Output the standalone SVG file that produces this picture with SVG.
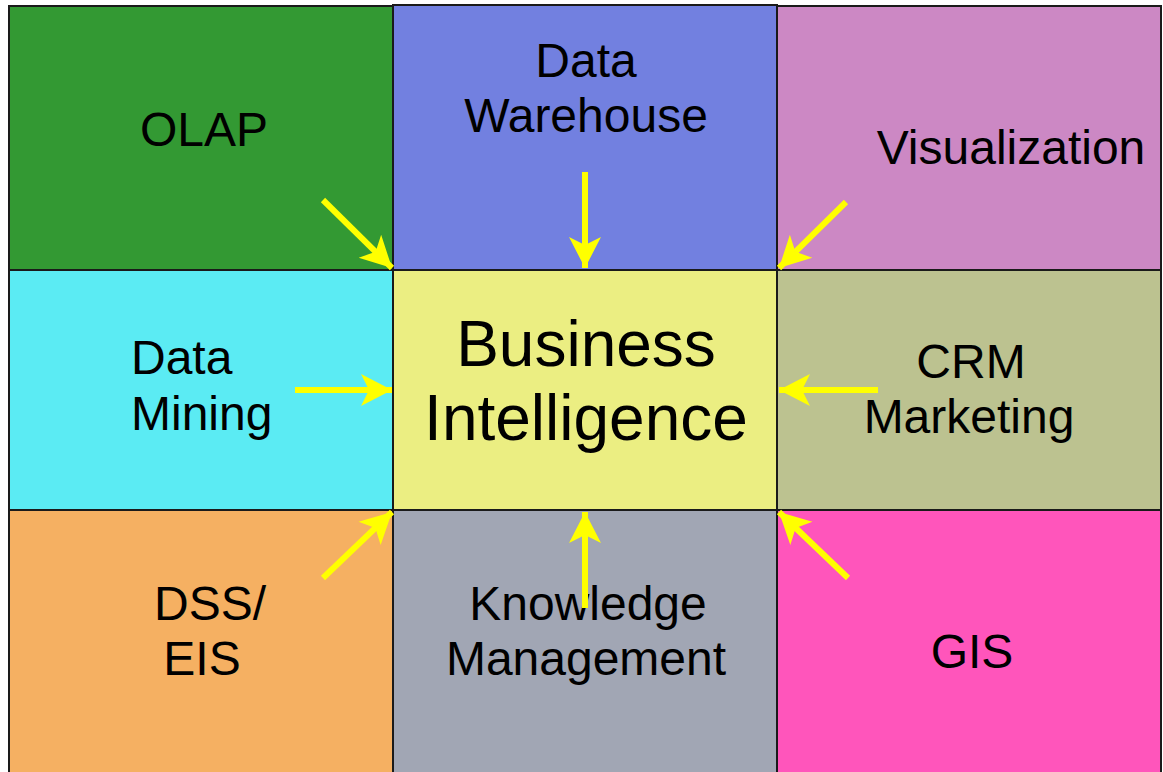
<svg xmlns="http://www.w3.org/2000/svg" width="1163" height="772" viewBox="0 0 1163 772">
<defs>
<style>
.cell{stroke:#1a1a1a;stroke-width:2}
.t{font-family:"Liberation Sans",Arial,sans-serif;font-size:48px;fill:#000;text-anchor:middle}
.l{text-anchor:start}
.big{font-size:64px}
.arr{stroke:#ffff00;stroke-width:6;fill:none;marker-end:url(#ah)}
</style>
<marker id="ah" markerUnits="userSpaceOnUse" markerWidth="40" markerHeight="40" viewBox="0 -20 40 40" refX="31" refY="0" orient="auto">
<path d="M0,-16 L31,0 L0,16 L8,0 Z" fill="#ffff00"/>
</marker>
</defs>
<rect width="1163" height="772" fill="#ffffff"/>
<g id="olap"><rect class="cell" x="9" y="6" width="384" height="264" fill="#339933"/><text class="t" x="204" y="146">OLAP</text></g>
<g id="data-warehouse"><rect class="cell" x="393" y="5" width="384" height="265" fill="#7280e0"/><text class="t" x="586" y="77">Data</text><text class="t" x="586" y="132">Warehouse</text></g>
<g id="visualization"><rect class="cell" x="777" y="6" width="384" height="264" fill="#cc88c4"/><text class="t" x="1011" y="164">Visualization</text></g>
<g id="data-mining"><rect class="cell" x="9" y="270" width="384" height="240" fill="#5bebf3"/><text class="t l" x="131" y="374">Data</text><text class="t l" x="131" y="430">Mining</text></g>
<g id="business-intelligence"><rect class="cell" x="393" y="270" width="384" height="240" fill="#ebee82"/><text class="t big" x="586" y="366">Business</text><text class="t big" x="586" y="440">Intelligence</text></g>
<g id="crm-marketing"><rect class="cell" x="777" y="270" width="384" height="240" fill="#bcc290"/><text class="t" x="971" y="378">CRM</text><text class="t" x="969" y="433">Marketing</text></g>
<g id="dss-eis"><rect class="cell" x="9" y="510" width="384" height="270" fill="#f5b062"/><text class="t" x="210" y="620">DSS/</text><text class="t" x="202" y="675">EIS</text></g>
<g id="knowledge-management"><rect class="cell" x="393" y="510" width="384" height="270" fill="#a1a6b4"/><text class="t" x="588" y="620">Knowledge</text><text class="t" x="586" y="675">Management</text></g>
<g id="gis"><rect class="cell" x="777" y="510" width="384" height="270" fill="#ff55bb"/><text class="t" x="972" y="668">GIS</text></g>
<g id="connectors">
<line class="arr" x1="323" y1="200" x2="392" y2="268"/>
<line class="arr" x1="585" y1="172" x2="585" y2="268"/>
<line class="arr" x1="846" y1="202" x2="779" y2="268"/>
<line class="arr" x1="295" y1="390" x2="392" y2="390"/>
<line class="arr" x1="878" y1="390" x2="779" y2="390"/>
<line class="arr" x1="323" y1="578" x2="392" y2="512"/>
<line class="arr" x1="585" y1="608" x2="585" y2="512"/>
<line class="arr" x1="848" y1="578" x2="779" y2="512"/>
</g>
</svg>
